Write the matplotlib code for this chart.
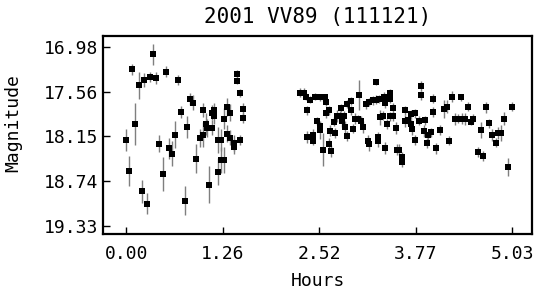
import matplotlib
matplotlib.use("Agg")
import matplotlib.pyplot as plt

# ---- data: first session ----
hours1 = [0.00, 0.04, 0.08, 0.12, 0.16, 0.20, 0.23, 0.27, 0.31, 0.35,
          0.39, 0.43, 0.48, 0.52, 0.56, 0.60, 0.64, 0.68, 0.72, 0.76,
          0.79, 0.83, 0.87, 0.91, 0.96, 1.00, 1.00, 1.04, 1.05, 1.08,
          1.12, 1.12, 1.15, 1.15, 1.19, 1.19, 1.23, 1.23, 1.27, 1.27,
          1.31, 1.31, 1.35, 1.35, 1.41, 1.41, 1.44, 1.44, 1.48, 1.48,
          1.52, 1.52]
mag1 = [18.20, 18.61, 17.27, 17.99, 17.48, 18.88, 17.41, 19.04, 17.37, 17.07,
        17.38, 18.25, 18.65, 17.30, 18.31, 18.38, 18.13, 17.41, 17.83, 19.00,
        18.03, 17.66, 17.71, 18.45, 18.17, 17.81, 18.13, 17.99, 18.04, 18.79,
        17.84, 18.04, 17.81, 17.89, 18.20, 18.62, 18.20, 18.46, 17.92, 18.46,
        17.77, 18.12, 17.84, 18.17, 18.24, 18.29, 17.33, 17.42, 17.58, 18.20,
        17.79, 17.91]
err1 = [0.15, 0.20, 0.07, 0.28, 0.18, 0.15, 0.09, 0.14, 0.07, 0.14,
        0.08, 0.11, 0.22, 0.07, 0.14, 0.17, 0.18, 0.07, 0.08, 0.19,
        0.15, 0.08, 0.10, 0.19, 0.12, 0.09, 0.17, 0.14, 0.12, 0.24,
        0.10, 0.10, 0.10, 0.10, 0.17, 0.18, 0.15, 0.17, 0.14, 0.17,
        0.12, 0.11, 0.11, 0.10, 0.10, 0.10, 0.05, 0.05, 0.05, 0.07,
        0.08, 0.07]

# ---- data: second session ----
hours2 = [2.26, 2.32, 2.34, 2.36, 2.36, 2.40, 2.42, 2.44, 2.44, 2.46,
          2.48, 2.52, 2.52, 2.52, 2.56, 2.56, 2.59, 2.60, 2.60, 2.64,
          2.64, 2.66, 2.67, 2.71, 2.72, 2.75, 2.79, 2.80, 2.81, 2.84,
          2.85, 2.88, 2.88, 2.93, 2.93, 2.96, 2.98, 3.02, 3.04, 3.06,
          3.08, 3.12, 3.15, 3.16, 3.17, 3.21, 3.25, 3.25, 3.28, 3.28,
          3.30, 3.31, 3.35, 3.36, 3.37, 3.37, 3.40, 3.44, 3.44, 3.44,
          3.48, 3.48, 3.52, 3.53, 3.56, 3.60, 3.60, 3.64, 3.64, 3.67,
          3.71, 3.71, 3.73, 3.77, 3.77, 3.81, 3.84, 3.84, 3.88, 3.89,
          3.92, 3.93, 3.97, 4.00, 4.00, 4.04, 4.09, 4.14, 4.18, 4.21,
          4.25, 4.29, 4.33, 4.37, 4.38, 4.41, 4.45, 4.49, 4.52, 4.58,
          4.62, 4.65, 4.69, 4.73, 4.77, 4.82, 4.85, 4.89, 4.93, 4.98, 5.03]
mag2 = [17.58, 17.58, 17.63, 17.81, 18.16, 17.67, 18.16, 18.14, 18.21, 17.63,
        17.95, 17.64, 18.02, 18.07, 17.64, 18.33, 17.64, 17.70, 17.85, 17.81,
        18.25, 18.08, 18.35, 17.96, 18.11, 17.88, 17.88, 17.78, 17.95, 17.88,
        18.03, 18.15, 17.73, 17.69, 17.81, 18.05, 17.92, 17.92, 17.61, 17.95,
        18.03, 17.73, 18.21, 18.26, 17.70, 17.68, 17.44, 17.67, 18.16, 18.21,
        17.66, 17.90, 17.88, 17.63, 17.72, 18.31, 17.99, 17.58, 17.66, 17.89,
        17.89, 17.78, 18.04, 18.33, 18.33, 18.43, 18.49, 17.81, 17.95, 17.94,
        17.99, 17.86, 18.05, 17.85, 18.20, 17.95, 17.49, 17.61, 18.08, 17.94,
        18.24, 18.14, 18.10, 17.66, 17.83, 18.31, 18.07, 17.79, 17.76, 18.21,
        17.63, 17.93, 17.92, 17.64, 17.92, 17.92, 17.76, 17.96, 17.92, 18.36,
        18.07, 18.41, 17.77, 17.98, 18.13, 18.24, 18.11, 18.11, 17.92, 18.56, 17.76]
err2 = [0.06, 0.06, 0.05, 0.06, 0.08, 0.05, 0.07, 0.08, 0.06, 0.05,
        0.05, 0.05, 0.06, 0.12, 0.05, 0.22, 0.05, 0.05, 0.06, 0.06,
        0.08, 0.07, 0.08, 0.06, 0.07, 0.08, 0.06, 0.05, 0.08, 0.06,
        0.08, 0.07, 0.05, 0.05, 0.06, 0.06, 0.07, 0.05, 0.20, 0.07,
        0.08, 0.06, 0.07, 0.08, 0.05, 0.06, 0.04, 0.06, 0.07, 0.08,
        0.05, 0.10, 0.06, 0.06, 0.06, 0.08, 0.07, 0.05, 0.06, 0.06,
        0.06, 0.06, 0.08, 0.07, 0.07, 0.07, 0.07, 0.06, 0.08, 0.06,
        0.06, 0.06, 0.08, 0.06, 0.07, 0.06, 0.06, 0.06, 0.08, 0.06,
        0.07, 0.06, 0.06, 0.06, 0.07, 0.07, 0.06, 0.12, 0.09, 0.06,
        0.07, 0.08, 0.06, 0.05, 0.07, 0.08, 0.06, 0.05, 0.06, 0.06,
        0.10, 0.07, 0.07, 0.06, 0.08, 0.06, 0.08, 0.10, 0.09, 0.12, 0.06]

xtick_vals = [0.0, 1.2575, 2.515, 3.7725, 5.03]
xtick_labels = ["0.00", "1.26", "2.52", "3.77", "5.03"]
ytick_vals = [16.98, 17.5675, 18.155, 18.7425, 19.33]
ytick_labels = ["16.98", "17.56", "18.15", "18.74", "19.33"]

title = "2001 VV89 (111121)"
xlabel = "Hours"
ylabel = "Magnitude"

plt.rcParams['font.family'] = ['DejaVu Sans Mono', 'DejaVu Sans']

fig = plt.figure(figsize=(5.37, 2.91), dpi=100)
ax = fig.add_axes([0.1927, 0.1959, 0.7971, 0.6814])

hours = hours1 + hours2
mags = mag1 + mag2
errs = err1 + err2

ax.errorbar(hours, mags, yerr=errs, fmt='s', color='black', markersize=4.8,
            ecolor='#7f7f7f', elinewidth=1.0, capsize=0, markeredgewidth=0)

ax.set_xlim(-0.297, 5.283)
ax.set_ylim(19.44, 16.827)
ax.set_xticks(xtick_vals)
ax.set_xticklabels(xtick_labels)
ax.set_yticks(ytick_vals)
ax.set_yticklabels(ytick_labels)
ax.tick_params(direction='in', length=5, width=1, labelsize=13, colors='black')
ax.tick_params(axis='x', pad=8)
ax.tick_params(axis='y', pad=4)
for sp in ax.spines.values():
    sp.set_linewidth(1.6)

ax.set_title(title, fontsize=15, pad=9.5)
ax.set_xlabel(xlabel, fontsize=13)
ax.set_ylabel(ylabel, fontsize=13)
ax.xaxis.set_label_coords(0.5, -0.19)
ax.yaxis.set_label_coords(-0.19, 0.557)

fig.savefig("out.png", dpi=100)
